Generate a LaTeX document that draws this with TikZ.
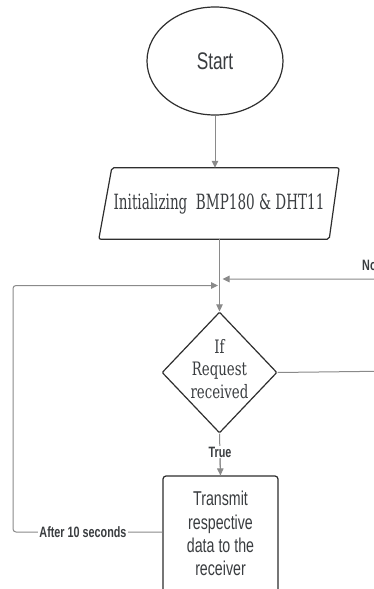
\documentclass[tikz,border=0pt]{standalone}
\usepackage{fontspec}
\usepackage{graphicx}
\setmainfont{DejaVu Serif}
\newfontfamily\sansf{Liberation Sans}
\usetikzlibrary{shapes.geometric,arrows.meta,calc}
\definecolor{lineg}{HTML}{8A8A8A}
\definecolor{shapeb}{HTML}{2E2E2E}
\definecolor{txt}{HTML}{3A3D40}
\newcommand{\nx}[2]{\scalebox{#1}[1]{#2}}
\tikzset{
  conn/.style={draw=lineg, line width=1pt},
  arr/.style={conn, -{Triangle[width=6.5pt,length=7pt]}},
  shp/.style={draw=shapeb, line width=1.2pt, text=txt},
  lbl/.style={fill=white, inner sep=1pt, text=txt, font=\sansf\bfseries\fontsize{15}{18}\selectfont},
}
\begin{document}
\begin{tikzpicture}[x=1pt,y=-1pt]
\useasboundingbox (0,0) rectangle (374,589);
\clip (0,0) rectangle (374,589);
\fill[white] (0,0) rectangle (374,589);
% start
\node[shp, ellipse, minimum width=136pt, minimum height=108pt, inner sep=0pt] (start) at (215,61)
  {\sansf\fontsize{24}{28}\selectfont\nx{0.72}{Start}};
% init parallelogram (invisible frame)
\node[minimum width=240pt, minimum height=71pt, inner sep=0pt, text=txt] (init) at (219,203.5)
  {\fontsize{21}{24}\selectfont\nx{0.645}{Initializing\ \ BMP180 \& DHT11}};
\draw[shp, rounded corners=2pt] ([xshift=13pt]init.north west) -- (init.north east)
  -- ([xshift=-10pt]init.south east) -- (init.south west) -- cycle;
% decision
\node[shp, diamond, minimum width=115pt, minimum height=121pt, inner sep=0pt, rounded corners=1pt] (q) at (219.5,372.5) {};
\node[text=txt, inner sep=0pt] (qt) at ([yshift=1.5pt]q.center)
  {\nx{0.72}{\fontsize{18.5}{22.5}\selectfont\begin{tabular}{@{}c@{}}If\\Request\\received\end{tabular}}};
% transmit box
\node[shp, rounded corners=3pt, minimum width=115pt, minimum height=120pt, inner sep=0pt] (box) at (220.5,536)
  {\nx{0.71}{\sansf\fontsize{20}{23.3}\selectfont\begin{tabular}{@{}c@{}}Transmit\\respective\\data to the\\receiver\end{tabular}}};
% helper coordinates
\coordinate (y279) at (0,279);
\coordinate (y286) at (0,285.5);
\coordinate (y532) at (0,532);
\coordinate (farR) at (400,371);
\coordinate (farRt) at (400,279);
\coordinate (leftB) at (13,532);
\coordinate (leftT) at (13,285.5);
% connectors
\draw[arr] (start.south) -- (start.south |- init.north);
\draw[arr] (init.south -| q.north) -- (q.north);
\draw[arr] (q.east) -- (farR) -- (farRt) -- ([xshift=3pt]q.north |- y279);
\node[lbl, fill=none, anchor=west] (no) at (361,265) {\nx{0.72}{No}};
\draw[conn] (q.south) -- (box.north);
\node[lbl] (true) at (220,452) {\nx{0.72}{True}};
\draw[arr] (true.south) -- (box.north);
\draw[arr, rounded corners=3pt] (box.west |- y532) -- (leftB) -- (leftT) -- ([xshift=-1.5pt]q.north |- y286);
\node[lbl] (after) at (83,532) {\nx{0.72}{After 10 seconds}};
\end{tikzpicture}
\end{document}
